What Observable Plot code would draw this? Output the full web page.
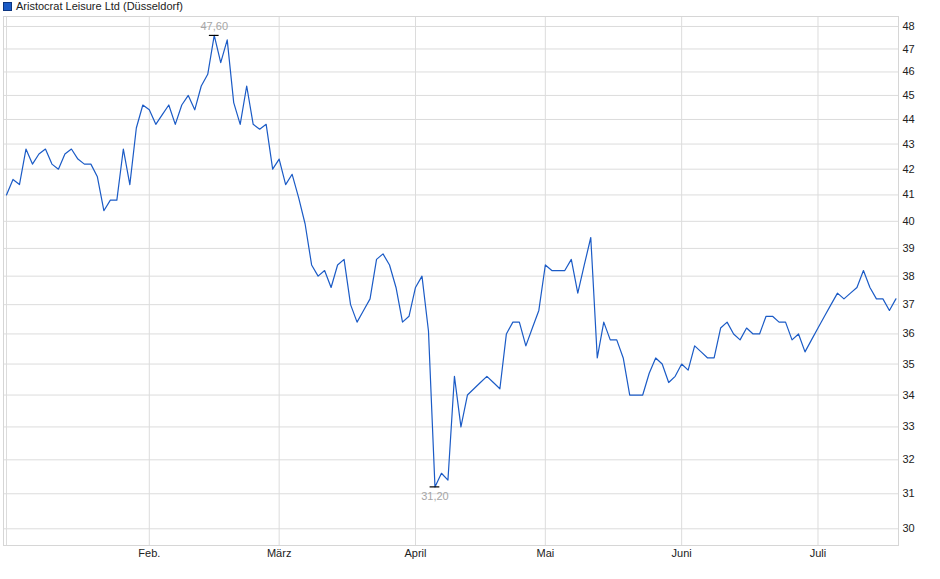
<!DOCTYPE html>
<html>
<head>
<meta charset="utf-8">
<script src="https://cdn.jsdelivr.net/npm/d3@7"></script>
<script src="https://cdn.jsdelivr.net/npm/@observablehq/plot@0.6"></script>
<style>
  html, body { margin: 0; padding: 0; background: #fff; }
  body { width: 940px; height: 579px; position: relative; overflow: hidden; font-family: "Liberation Sans", Arial, sans-serif; }
  #legend { position: absolute; left: 3px; top: 0px; height: 12px; font-size: 11px; color: #222; display: flex; align-items: center; white-space: nowrap; }
  #legend .sw { display: inline-block; width: 7px; height: 7px; background: #1b5bc6; border: 1px solid #0c3580; margin-right: 4px; }
  #chart { position: absolute; left: 0; top: 14px; }
</style>
</head>
<body>
<div id="legend"><span class="sw"></span>Aristocrat Leisure Ltd (Düsseldorf)</div>
<div id="chart"></div>
<script>
// Daily closing prices (EUR), trading-day index 0 = 2 Jan
const prices = [
  41.0, 41.6, 41.4, 42.8, 42.2, 42.6, 42.8, 42.2, 42.0, 42.6,
  42.8, 42.4, 42.2, 42.2, 41.7, 40.4, 40.8, 40.8, 42.8, 41.4,
  43.65, 44.6, 44.4, 43.8, 44.2, 44.6, 43.8, 44.6, 45.0, 44.4,
  45.4, 45.9, 47.6, 46.4, 47.4, 44.7, 43.8, 45.4, 43.8, 43.6,
  43.8, 42.0, 42.4, 41.4, 41.8, 40.9, 39.9, 38.4, 38.0, 38.2,
  37.6, 38.4, 38.6, 37.0, 36.4, 36.8, 37.2, 38.6, 38.8, 38.4,
  37.6, 36.4, 36.6, 37.6, 38.0, 36.1, 31.2, 31.6, 31.4, 34.6,
  33.0, 34.0, 34.2, 34.4, 34.6, 34.4, 34.2, 36.0, 36.4, 36.4,
  35.6, 36.2, 36.8, 38.4, 38.2, 38.2, 38.2, 38.6, 37.4, 38.4,
  39.4, 35.2, 36.4, 35.8, 35.8, 35.2, 34.0, 34.0, 34.0, 34.7,
  35.2, 35.0, 34.4, 34.6, 35.0, 34.8, 35.6, 35.4, 35.2, 35.2,
  36.2, 36.4, 36.0, 35.8, 36.2, 36.0, 36.0, 36.6, 36.6, 36.4,
  36.4, 35.8, 36.0, 35.4, 35.8, 36.2, 36.6, 37.0, 37.4, 37.2,
  37.4, 37.6, 38.2, 37.6, 37.2, 37.2, 36.8, 37.2
];
// first trading day of each month (index)
const monthTicks = [22, 42, 63, 83, 104, 125];
const monthLabels = ["Feb.", "März", "April", "Mai", "Juni", "Juli"];
const yTicks = [30, 31, 32, 33, 34, 35, 36, 37, 38, 39, 40, 41, 42, 43, 44, 45, 46, 47, 48];

const data = prices.map((v, i) => ({i, v}));
const iMax = d3.maxIndex(prices);
const iMin = d3.minIndex(prices);
const maxPt = [{i: iMax, v: prices[iMax]}];
const minPt = [{i: iMin, v: prices[iMin]}];
const labelOf = new Map(monthTicks.map((t, k) => [t, monthLabels[k]]));
const fmt = v => v.toFixed(2).replace(".", ",");

const chart = Plot.plot({
  width: 940,
  height: 565,
  marginTop: 2,
  marginBottom: 34,
  marginLeft: 3,
  marginRight: 42,
  x: {domain: [-0.46, 137.4], axis: null, label: null},
  y: {type: "log", domain: [29.535, 48.45], axis: null, label: null},
  style: {fontFamily: "'Liberation Sans', Arial, sans-serif", fontSize: "11px", background: "#fff", color: "#222"},
  marks: [
    Plot.gridY(yTicks, {stroke: "#dcdcdc", strokeOpacity: 1}),
    Plot.gridX([0, ...monthTicks], {stroke: "#dcdcdc", strokeOpacity: 1}),
    Plot.frame({stroke: "#d6d6d6"}),
    Plot.axisY(yTicks, {anchor: "right", label: null, tickSize: 0, tickPadding: 4, tickFormat: d => String(d), fill: "#222"}),
    Plot.axisX(monthTicks, {anchor: "bottom", label: null, tickSize: 0, tickPadding: 4, tickFormat: d => labelOf.get(d), fill: "#222"}),
    Plot.line(data, {x: "i", y: "v", stroke: "#1b5bc6", strokeWidth: 1.2}),
    Plot.ruleY([...maxPt, ...minPt], {y: "v", x1: d => d.i - 0.75, x2: d => d.i + 0.75, stroke: "#000", strokeWidth: 1.2}),
    Plot.text(maxPt, {x: "i", y: "v", dy: -9, text: d => fmt(d.v), fill: "#a6a6a6", fontSize: 11}),
    Plot.text(minPt, {x: "i", y: "v", dy: 10, text: d => fmt(d.v), fill: "#a6a6a6", fontSize: 11})
  ]
});
document.getElementById("chart").appendChild(chart);
</script>
</body>
</html>
